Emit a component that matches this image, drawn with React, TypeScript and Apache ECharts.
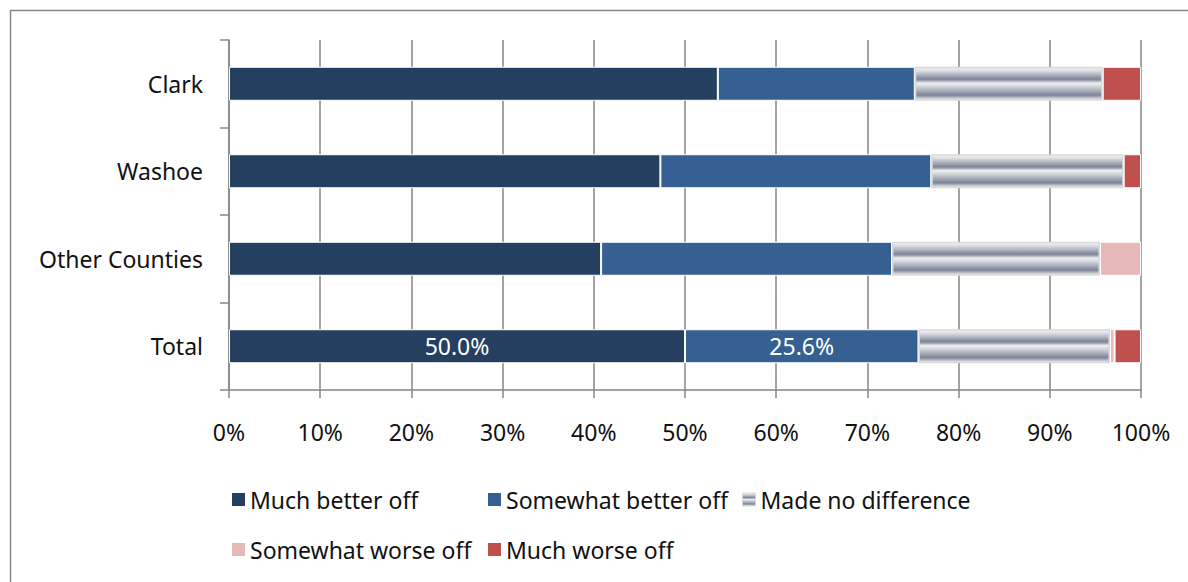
import React, { useEffect, useRef } from "react";
import * as echarts from "echarts";

// Share of respondents by county, in percent
const categories = ["Clark", "Washoe", "Other Counties", "Total"];
const seriesNames = [
  "Much better off",
  "Somewhat better off",
  "Made no difference",
  "Somewhat worse off",
  "Much worse off",
];
const muchBetter = [53.6, 47.3, 40.8, 50.0];
const somewhatBetter = [21.6, 29.7, 31.9, 25.6];
const noDifference = [20.6, 21.1, 22.8, 21.0];
const somewhatWorse = [0, 0, 4.5, 0.5];
const muchWorse = [4.2, 1.9, 0, 2.9];
// Rows whose first two segments carry a value label
const labelledRows = ["Total"];

const FONT = "Noto Sans";
const AXIS_GRAY = "#868686";

const stripedGray = new echarts.graphic.LinearGradient(0, 0, 0, 1, [
  { offset: 0, color: "#f3f3f3" },
  { offset: 0.1, color: "#dcdee3" },
  { offset: 0.36, color: "#7d8498" },
  { offset: 0.41, color: "#a3a8b5" },
  { offset: 0.48, color: "#efefef" },
  { offset: 0.58, color: "#d3d6dc" },
  { offset: 0.85, color: "#7d8498" },
  { offset: 0.91, color: "#aaafbb" },
  { offset: 1, color: "#f3f3f3" },
]);

const seriesColors = ["#243F60", "#366092", stripedGray, "#E6B9B8", "#C0504D"];
const seriesValues = [muchBetter, somewhatBetter, noDifference, somewhatWorse, muchWorse];

export default function App() {
  const ref = useRef<HTMLDivElement>(null);

  useEffect(() => {
    document.body.style.margin = "0";
    if (!ref.current) return;
    const chart = echarts.init(ref.current, undefined, { renderer: "svg" });

    const series = seriesNames.map((name, si) => ({
      name,
      type: "bar",
      stack: "all",
      barWidth: 34,
      itemStyle: {
        color: seriesColors[si],
        borderColor: si === 2 ? "#d9d9d9" : "#ffffff",
        borderWidth: si === 2 ? 1.5 : 1,
      },
      data: seriesValues[si].map((v, ci) => {
        if (v === 0) return null;
        const showLabel = si < 2 && labelledRows.includes(categories[ci]);
        return {
          value: v,
          label: {
            show: showLabel,
            position: "inside",
            formatter: (p: any) => `${Number(p.value).toFixed(1)}%`,
            color: "#ffffff",
            fontFamily: FONT,
            fontSize: 23,
          },
        };
      }),
    }));

    const legendBase = {
      orient: "horizontal",
      padding: 0,
      itemWidth: 13,
      itemHeight: 13,
      icon: "rect",
      textStyle: { fontFamily: FONT, fontSize: 23, color: "#111111" },
      itemStyle: { borderWidth: 0 },
    };
    const legendPlaces = [
      { left: 232, top: 488 },
      { left: 488, top: 488 },
      { left: 742, top: 488 },
      { left: 232, top: 538 },
      { left: 488, top: 538 },
    ];

    chart.setOption({
      animation: false,
      backgroundColor: "#ffffff",
      grid: { left: 229, right: 47, top: 40, bottom: 192, containLabel: false },
      xAxis: {
        type: "value",
        min: 0,
        max: 100,
        interval: 10,
        axisLine: { show: true, lineStyle: { color: AXIS_GRAY, width: 1.5 } },
        axisTick: { show: true, length: 8, lineStyle: { color: AXIS_GRAY, width: 1.5 } },
        splitLine: { show: true, lineStyle: { color: AXIS_GRAY, width: 1.5 } },
        axisLabel: {
          formatter: "{value}%",
          margin: 30,
          fontFamily: FONT,
          fontSize: 23,
          color: "#111111",
        },
      },
      yAxis: {
        type: "category",
        data: categories,
        inverse: true,
        axisLine: { show: true, lineStyle: { color: AXIS_GRAY, width: 1.5 } },
        axisTick: { show: true, length: 9, lineStyle: { color: AXIS_GRAY, width: 1.5 } },
        axisLabel: {
          margin: 26,
          fontFamily: FONT,
          fontSize: 23,
          color: "#111111",
        },
      },
      legend: seriesNames.map((name, i) => ({
        ...legendBase,
        ...legendPlaces[i],
        data: [name],
        itemStyle: i === 2 ? { borderWidth: 1, borderColor: "#d9d9d9" } : { borderWidth: 0 },
      })),
      graphic: [
        {
          type: "rect",
          z: -10,
          silent: true,
          shape: { x: 10.5, y: 10.5, width: 1300, height: 700 },
          style: { fill: "none", stroke: AXIS_GRAY, lineWidth: 1.5 },
        },
      ],
      series,
    });

    return () => chart.dispose();
  }, []);

  return <div ref={ref} style={{ width: 1188, height: 582 }} />;
}
